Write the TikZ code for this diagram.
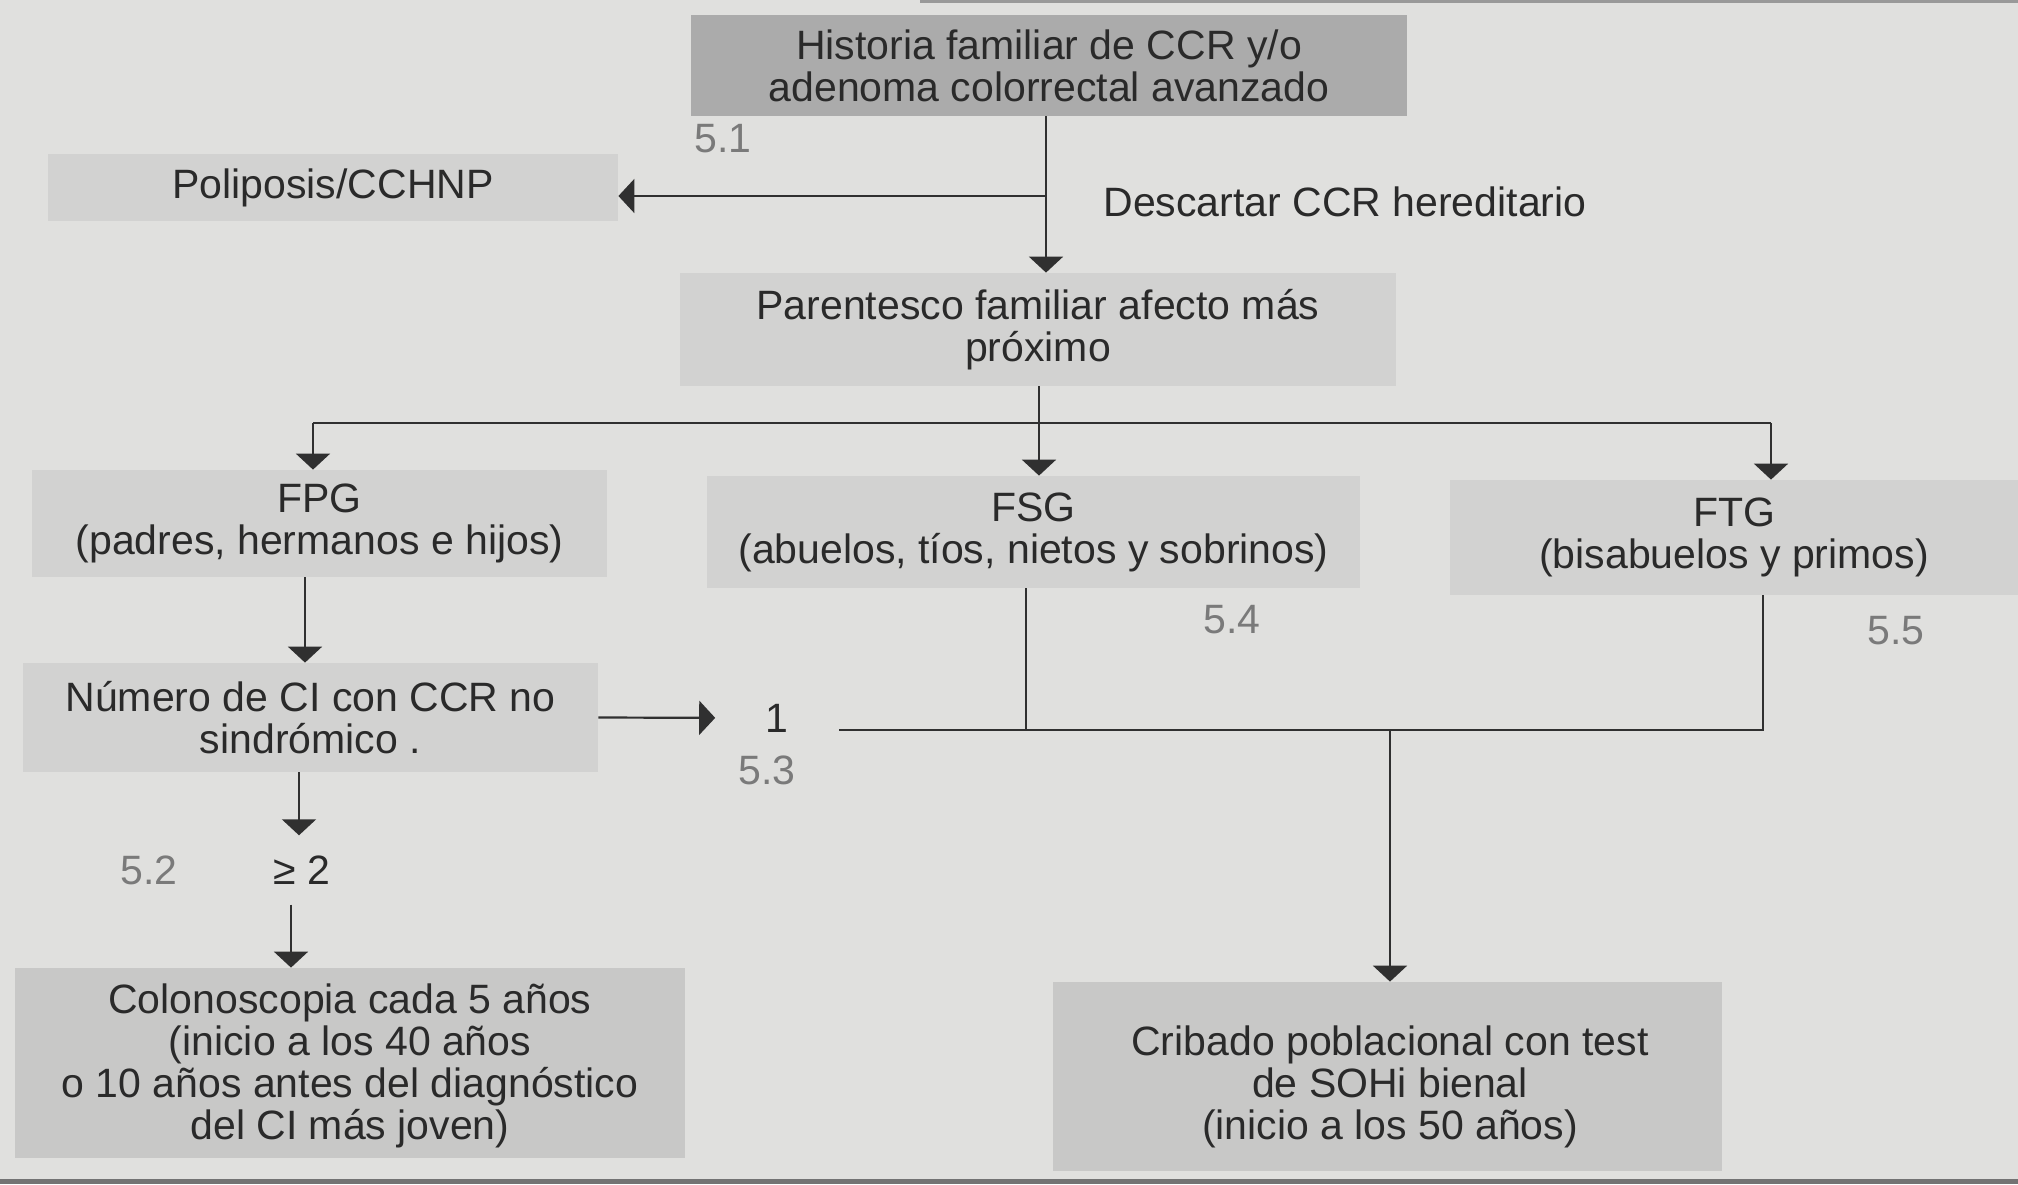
\documentclass[tikz,border=0pt]{standalone}
\usepackage{fontspec}
\setmainfont{Liberation Sans}
\usetikzlibrary{arrows.meta}
\definecolor{bgc}{HTML}{E0E0DE}
\definecolor{topc}{HTML}{ABABAB}
\definecolor{boxc}{HTML}{D2D2D1}
\definecolor{boxd}{HTML}{C8C8C7}
\definecolor{txtc}{HTML}{2A2A2A}
\definecolor{labc}{HTML}{7A7A7A}
\definecolor{linec}{HTML}{303030}
\begin{document}
\begin{tikzpicture}[x=0.5pt,y=-0.5pt,
  box/.style={fill=boxc, inner sep=0pt, align=center, text=txtc,
    font=\fontsize{20.5}{21}\selectfont},
  lbl/.style={inner sep=0pt, text=labc, font=\fontsize{20.5}{21}\selectfont},
  txt/.style={inner sep=0pt, text=txtc, align=center, font=\fontsize{20.5}{21}\selectfont},
  conn/.style={draw=linec, line width=1.1pt},
  arr/.style={conn, -{Triangle[width=17pt,length=8pt]}}]
\fill[bgc] (0,0) rectangle (2018,1184);
\useasboundingbox (0,0) rectangle (2018,1184);
\fill[black!40] (920,0) rectangle (2018,3);
\fill[black!55] (0,1179) rectangle (2018,1184);

% boxes
\node[box, fill=topc, minimum width=358pt, minimum height=50.5pt] (hist) at (1049,65.5)
  {Historia familiar de CCR y/o\\adenoma colorrectal avanzado};
\node[box, minimum width=285pt, minimum height=33.5pt] (poli) at (333,187.5)
  {Poliposis/CCHNP};
\node[box, minimum width=358pt, minimum height=56.5pt] (par) at (1038,329.5)
  {Parentesco familiar afecto más\\próximo};
\node[box, minimum width=287.5pt, minimum height=53.5pt] (fpg) at (319.5,523.5)
  {FPG\\(padres, hermanos e hijos)};
\node[box, minimum width=326.5pt, minimum height=56pt] (fsg) at (1033.5,532)
  {FSG\\(abuelos, tíos, nietos y sobrinos)};
\node[box, minimum width=284pt, minimum height=57.5pt] (ftg) at (1734,537.5)
  {FTG\\(bisabuelos y primos)};
\node[box, minimum width=287.5pt, minimum height=54.5pt] (num) at (310.5,717.5)
  {Número de CI con CCR no\\sindrómico .};
\node[box, fill=boxd, minimum width=335pt, minimum height=95pt] (col) at (350,1063)
  {};
\node[txt] (colt) at (350,1066)
  {Colonoscopia cada 5 años\\(inicio a los 40 años\\o 10 años antes del diagnóstico\\del CI más joven)};
\node[box, fill=boxd, minimum width=334.5pt, minimum height=94.5pt] (crib) at (1387.5,1076.5)
  {};
\node[txt] (cribt) at (1390,1087)
  {Cribado poblacional con test\\de SOHi bienal\\(inicio a los 50 años)};

% labels
\node[lbl] (l51) at (723,139) {5.1};
\node[lbl] (l54) at (1232,620) {5.4};
\node[lbl] (l55) at (1896,631) {5.5};
\node[lbl] (l53) at (767,770) {5.3};
\node[lbl] (l52) at (149,870) {5.2};
\node[txt, anchor=west] (desc) at (1103,202) {Descartar CCR hereditario};
\node[txt] (one) at (777,718) {1};
\node[txt] (ge) at (302,870) {≥ 2};

% connectors
\coordinate (b1) at (1046,196);
\draw[arr] (hist.south -| b1) -- (par.north -| b1);
\draw[arr] (b1) -- (b1 -| poli.east);

\coordinate (bus) at (1039,423);
\coordinate (busL) at (313,423);
\coordinate (busR) at (1771,423);
\draw[conn] (par.south -| bus) -- (bus);
\draw[conn] (busL) -- (busR);
\draw[arr] (busL) -- (busL |- fpg.north);
\draw[arr] (bus) -- (bus |- fsg.north);
\draw[arr] (busR) -- (busR |- ftg.north);

\coordinate (v1) at (305,0);
\draw[arr] (fpg.south -| v1) -- (num.north -| v1);
\draw[arr, shorten >=10pt] ([xshift=-5.75pt]num.south) -- ([xshift=-1.5pt]ge.north);
\draw[arr, shorten <=10pt] ([xshift=-5.5pt]ge.south) -- ([xshift=-5.5pt]ge.south |- col.north);

\draw[arr, shorten >=25pt] (num.east) -- (one.west);
\coordinate (jl) at (839,730);
\coordinate (jf) at (1026,730);
\coordinate (jm) at (1390,730);
\coordinate (jr) at (1763,730);
\draw[conn] (jl) -- (jr) -- (jr |- ftg.south);
\draw[conn] (jf) -- (jf |- fsg.south);
\draw[arr] (jm) -- (jm |- crib.north);
\end{tikzpicture}
\end{document}
